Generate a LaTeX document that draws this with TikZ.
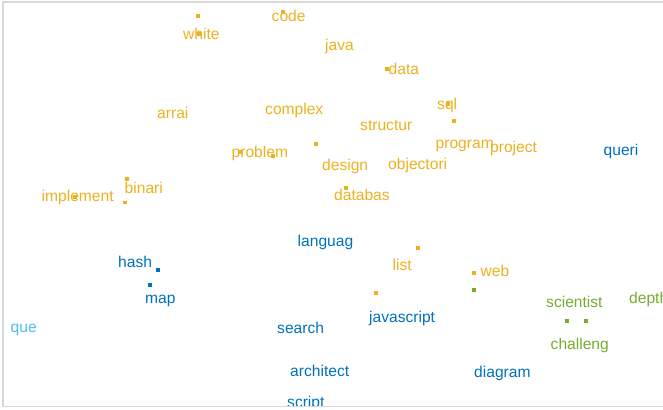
\documentclass[tikz,border=0pt]{standalone}
\usepackage{fontspec}
\setmainfont{Liberation Sans}
\definecolor{cOr}{HTML}{EDB120}
\definecolor{cBl}{HTML}{0072BD}
\definecolor{cLb}{HTML}{4DBEEE}
\definecolor{cGr}{HTML}{77AC30}
\definecolor{cFr}{HTML}{D9D9D9}
\tikzset{
  word/.style={anchor=base west, inner sep=0pt, font=\fontsize{15.6bp}{18bp}\selectfont},
  wo/.style={word, text=cOr},
  wb/.style={word, text=cBl},
  wl/.style={word, text=cLb},
  wg/.style={word, text=cGr},
  pt/.style={rectangle, inner sep=0pt, minimum size=3.4bp, draw=none},
  po/.style={pt, fill=cOr},
  pb/.style={pt, fill=cBl},
  pg/.style={pt, fill=cGr},
}
\begin{document}
\begin{tikzpicture}[x=1bp, y=-1bp]
\useasboundingbox (0,0) rectangle (663,409);
\begin{scope}
\clip (3,2) rectangle (663,406.5);
% orange words
\node[wo] (code) at (271.5,21.5) {code};
\node[wo] (white) at (183,39) {white};
\node[wo] (java) at (325,50) {java};
\node[wo] (data) at (388.5,74) {data};
\node[wo] (arrai) at (157,118) {arrai};
\node[wo] (complex) at (265,114) {complex};
\node[wo] (sql) at (437,109) {sql};
\node[wo] (structur) at (360,130.5) {structur};
\node[wo] (problem) at (231.5,157.5) {problem};
\node[wo] (program) at (435.5,148.5) {program};
\node[wo] (project) at (490,152) {project};
\node[wo] (design) at (322,170) {design};
\node[wo] (objectori) at (388,169.5) {objectori};
\node[wo] (binari) at (124.5,193) {binari};
\node[wo] (implement) at (41.5,201.5) {implement};
\node[wo] (databas) at (334,200) {databas};
\node[wo] (list) at (392.5,270) {list};
\node[wo] (web) at (480.5,276.5) {web};
% blue words
\node[wb] (queri) at (603.5,155.5) {queri};
\node[wb] (languag) at (297.5,246.5) {languag};
\node[wb] (hash) at (118,267.5) {hash};
\node[wb] (map) at (145,303) {map};
\node[wb] (search) at (277,333) {search};
\node[wb] (javascript) at (369,322.5) {javascript};
\node[wb] (architect) at (290,376.5) {architect};
\node[wb] (diagram) at (474,377.5) {diagram};
\node[wb] (script) at (287,407) {script};
% light blue
\node[wl] (que) at (10.5,332) {que};
% green words
\node[wg] (scientist) at (546,307) {scientist};
\node[wg] (depth) at (629,303) {depth};
\node[wg] (challeng) at (550.5,349) {challeng};
% dots
\node[po] (d1) at (198,16) {};
\node[po] (d2) at (283,12) {};
\node[po] (d3) at (199,34) {};
\node[po] (d4) at (387,69) {};
\node[po] (d5) at (448,104) {};
\node[po] (d6) at (454,121) {};
\node[po] (d7) at (240,152) {};
\node[po] (d8) at (273,156) {};
\node[po] (d9) at (316,144) {};
\node[po] (d10) at (127,179) {};
\node[po] (d11) at (125,202.5) {};
\node[po] (d12) at (75,197) {};
\node[po] (d13) at (346,188) {};
\node[po] (d14) at (418,248) {};
\node[po] (d15) at (376,293) {};
\node[po] (d16) at (474,273) {};
\node[pg] (g1) at (474,290) {};
\node[pg] (g2) at (567,321) {};
\node[pg] (g3) at (586,321) {};
\node[pb] (b1) at (158,270) {};
\node[pb] (b2) at (150,285) {};
\end{scope}
% frame
\draw[cFr, line width=1.5bp] (663,2) -- (3,2) -- (3,406.5) -- (663,406.5);
\end{tikzpicture}
\end{document}
